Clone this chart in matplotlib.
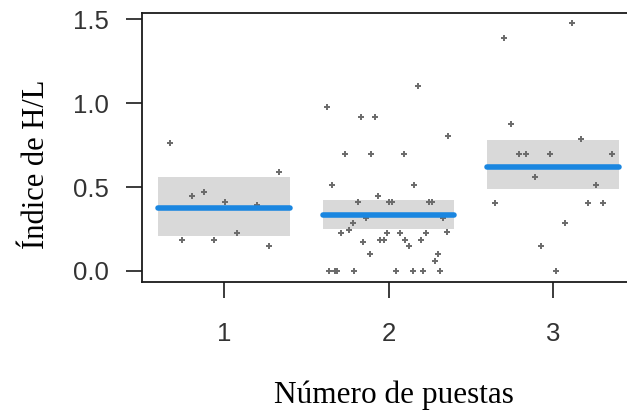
import matplotlib.pyplot as plt
import numpy as np

# 数据：每组的均值、置信区间，以及抖动后的散点
grupos = [1, 2, 3]
medias = [0.375, 0.335, 0.621]
ic_bajo = [0.208, 0.248, 0.486]
ic_alto = [0.560, 0.423, 0.780]

x_g1 = [0.672, 1.336, 0.807, 0.878, 1.006, 1.199, 0.743, 0.941, 1.077, 1.275]
y_g1 = [0.764, 0.589, 0.448, 0.468, 0.409, 0.393, 0.183, 0.183, 0.224, 0.151]

x_g2 = [2.178, 1.625, 1.834, 1.919, 2.365, 1.737, 1.895, 2.093, 1.655, 2.158,
        1.937, 1.813, 2.000, 2.020, 2.249, 2.263, 1.864, 2.334, 1.783, 1.761,
        1.708, 1.992, 2.073, 2.229, 2.353, 1.844, 1.947, 1.970, 2.103, 2.199,
        2.126, 1.886, 2.304, 2.282, 1.635, 1.676, 1.688, 1.791, 2.047, 2.148,
        2.209, 2.314]
y_g2 = [1.101, 0.978, 0.919, 0.919, 0.805, 0.694, 0.694, 0.694, 0.510, 0.510,
        0.448, 0.409, 0.409, 0.409, 0.409, 0.409, 0.314, 0.314, 0.286, 0.244,
        0.224, 0.224, 0.224, 0.224, 0.234, 0.173, 0.183, 0.183, 0.183, 0.183,
        0.151, 0.101, 0.101, 0.060, 0.0, 0.0, 0.0, 0.0, 0.0, 0.0,
        0.0, 0.0]

x_g3 = [3.118, 2.700, 2.743, 3.170, 2.793, 2.838, 2.982, 3.359, 2.889, 3.263,
        2.649, 3.211, 3.306, 3.077, 2.929, 3.022]
y_g3 = [1.478, 1.387, 0.875, 0.784, 0.694, 0.694, 0.694, 0.694, 0.560, 0.510,
        0.407, 0.407, 0.407, 0.284, 0.151, 0.0]

y_ticks = [0.0, 0.5, 1.0, 1.5]
y_ticklabels = ["0.0", "0.5", "1.0", "1.5"]

fig = plt.figure(figsize=(6.27, 4.12), dpi=100)
# 轴的右边界超出画布（原图被裁切）
ax = fig.add_axes([142 / 627, 130 / 412, 493 / 627, 269 / 412])

ancho = 0.4
for g, m, lo, hi in zip(grupos, medias, ic_bajo, ic_alto):
    ax.fill_between([g - ancho, g + ancho], lo, hi, color="#d9d9d9", lw=0, zorder=1)
    ax.plot([g - ancho, g + ancho], [m, m], color="#1a86e0", lw=4,
            solid_capstyle="round", zorder=3)

for xs, ys in [(x_g1, y_g1), (x_g2, y_g2), (x_g3, y_g3)]:
    ax.plot(xs, ys, "+", color="#6a6a6a", ms=4.8, mew=1.4, zorder=2)

ax.set_xlim(0.5, 3.5)
ax.set_ylim(-0.0655, 1.536)
ax.set_xticks(grupos)
ax.set_xticklabels([str(g) for g in grupos])
ax.set_yticks(y_ticks)
ax.set_yticklabels(y_ticklabels)

for s in ax.spines.values():
    s.set_linewidth(1.3)
    s.set_color("#1a1a1a")

ax.tick_params(axis="both", direction="out", length=11.5, width=1.2,
               color="#1a1a1a", labelcolor="#333333", labelsize=18.5)
ax.tick_params(axis="x", pad=17)
ax.tick_params(axis="y", pad=12)
for lab in ax.get_xticklabels() + ax.get_yticklabels():
    lab.set_fontfamily("Liberation Sans")

# 坐标轴标题（衬线字体）
fig.text(393.5 / 627, (412 - 403) / 412, "Número de puestas", ha="center",
         va="baseline", fontsize=22.5, family="Liberation Serif")
fig.text(37 / 627, (412 - 164) / 412, "Índice de H/L", ha="center",
         va="center", rotation=90, fontsize=22, family="Liberation Serif")

fig.savefig("out.png", dpi=100)
